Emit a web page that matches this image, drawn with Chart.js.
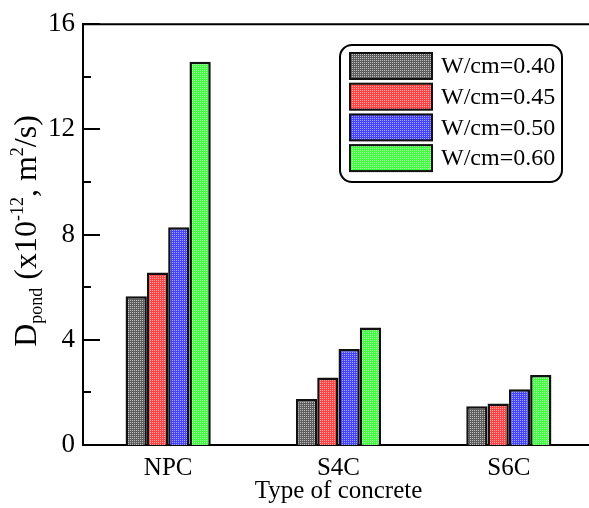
<!DOCTYPE html>
<html>
<head>
<meta charset="utf-8">
<script src="https://cdn.jsdelivr.net/npm/chart.js@4/dist/chart.umd.min.js"></script>
<style>
  html, body { margin: 0; padding: 0; background: #fff; overflow: hidden; }
  #wrap { width: 594px; height: 508px; }
</style>
</head>
<body>
<div id="wrap"><canvas id="myChart" width="594" height="508"></canvas></div>
<script>
const categories = ['NPC', 'S4C', 'S6C'];
const seriesLabels = ['W/cm=0.40', 'W/cm=0.45', 'W/cm=0.50', 'W/cm=0.60'];
const wc040 = [5.66, 1.75, 1.47];
const wc045 = [6.56, 2.57, 1.58];
const wc050 = [8.28, 3.65, 2.12];
const wc060 = [14.57, 4.47, 2.66];
const yTicks = [0, 4, 8, 12, 16];

// dotted fill like the original hatch
function dots(base, light) {
  const c = document.createElement('canvas');
  c.width = 2; c.height = 2;
  const g = c.getContext('2d');
  g.fillStyle = base;
  g.fillRect(0, 0, 2, 2);
  g.fillStyle = light;
  g.fillRect(0, 0, 1, 1);
  return g.createPattern(c, 'repeat');
}

const fills = [
  dots('#5e5e5e', '#bdbdbd'),
  dots('#ff4242', '#ffa8a8'),
  dots('#4242ff', '#a8a8ff'),
  dots('#42ff42', '#a8ffa8'),
];

const FONT = '"Liberation Serif", "Times New Roman", serif';
Chart.defaults.font.family = FONT;
Chart.defaults.color = '#000';

const values = [wc040, wc045, wc050, wc060];
const data = {
  labels: categories,
  datasets: values.map((v, i) => ({
    label: seriesLabels[i],
    data: v,
    backgroundColor: fills[i],
    borderColor: '#111',
    borderWidth: 2.5,
    borderSkipped: 'start',
    categoryPercentage: 0.5,
    barPercentage: 1.0,
  })),
};

const frame = {
  id: 'frame',
  afterDatasetsDraw(chart) {
    const ctx = chart.ctx;
    const { left, right, top } = chart.chartArea;
    const y = chart.scales.y;
    ctx.save();
    ctx.strokeStyle = '#000';
    ctx.lineWidth = 2;
    ctx.beginPath();
    ctx.moveTo(left, top);
    ctx.lineTo(right, top);
    for (let v = 0; v <= 16; v += 2) {
      const py = Math.round(y.getPixelForValue(v));
      const len = yTicks.includes(v) ? 17 : 8;
      ctx.moveTo(left, py);
      ctx.lineTo(left + len, py);
    }
    ctx.stroke();
    ctx.restore();
  },
  afterDraw(chart) {
    const ctx = chart.ctx;
    ctx.save();
    // legend box
    const bx = 340, by = 45, bw = 222, bh = 137;
    ctx.lineWidth = 2;
    ctx.strokeStyle = '#000';
    ctx.fillStyle = '#fff';
    ctx.beginPath();
    ctx.roundRect(bx, by, bw, bh, 12);
    ctx.fill();
    ctx.stroke();
    chart.data.datasets.forEach((ds, i) => {
      const sy = 53 + i * 30.7;
      ctx.fillStyle = ds.backgroundColor;
      ctx.fillRect(350, sy, 82, 26);
      ctx.strokeStyle = '#111';
      ctx.strokeRect(350, sy, 82, 26);
      ctx.fillStyle = '#000';
      ctx.font = '24px ' + FONT;
      ctx.textBaseline = 'middle';
      ctx.textAlign = 'left';
      ctx.fillText(ds.label, 441, sy + 14);
    });

    // y axis title with sub/superscripts
    const parts = [
      ['D', 32, 0], ['pond', 18, 6], [' (x10', 32, 0], ['-12', 18, -13],
      [', m', 32, 0], ['2', 18, -13], ['/s)', 32, 0],
    ];
    let total = 0;
    parts.forEach(p => { ctx.font = p[1] + 'px ' + FONT; total += ctx.measureText(p[0]).width; });
    ctx.translate(36, 231);
    ctx.rotate(-Math.PI / 2);
    ctx.textBaseline = 'alphabetic';
    let x = -total / 2;
    parts.forEach(p => {
      ctx.font = p[1] + 'px ' + FONT;
      ctx.fillText(p[0], x, p[2]);
      x += ctx.measureText(p[0]).width;
    });
    ctx.restore();
  },
};

const options = {
  responsive: false,
  animation: false,
  layout: { padding: 0 },
  scales: {
    x: {
      grid: { display: false, drawTicks: false },
      border: { display: true, color: '#000', width: 2 },
      ticks: { font: { size: 25 }, padding: 8, maxRotation: 0 },
      title: { display: true, text: 'Type of concrete', font: { size: 25 }, padding: { top: 0, bottom: 2 } },
      afterFit(scale) { scale.height = 63; },
    },
    y: {
      min: 0,
      max: 16,
      grid: { display: false, drawTicks: false },
      border: { display: true, color: '#000', width: 2 },
      ticks: {
        stepSize: 2,
        padding: 8,
        font: { size: 27 },
        callback: (v) => (yTicks.includes(v) ? v : ''),
      },
      afterFit(scale) { scale.width = 83; },
    },
  },
  plugins: {
    legend: { display: false },
    tooltip: { enabled: false },
  },
};

new Chart('myChart', {
  type: 'bar',
  data: data,
  options: options,
  plugins: [frame],
});
</script>
</body>
</html>
